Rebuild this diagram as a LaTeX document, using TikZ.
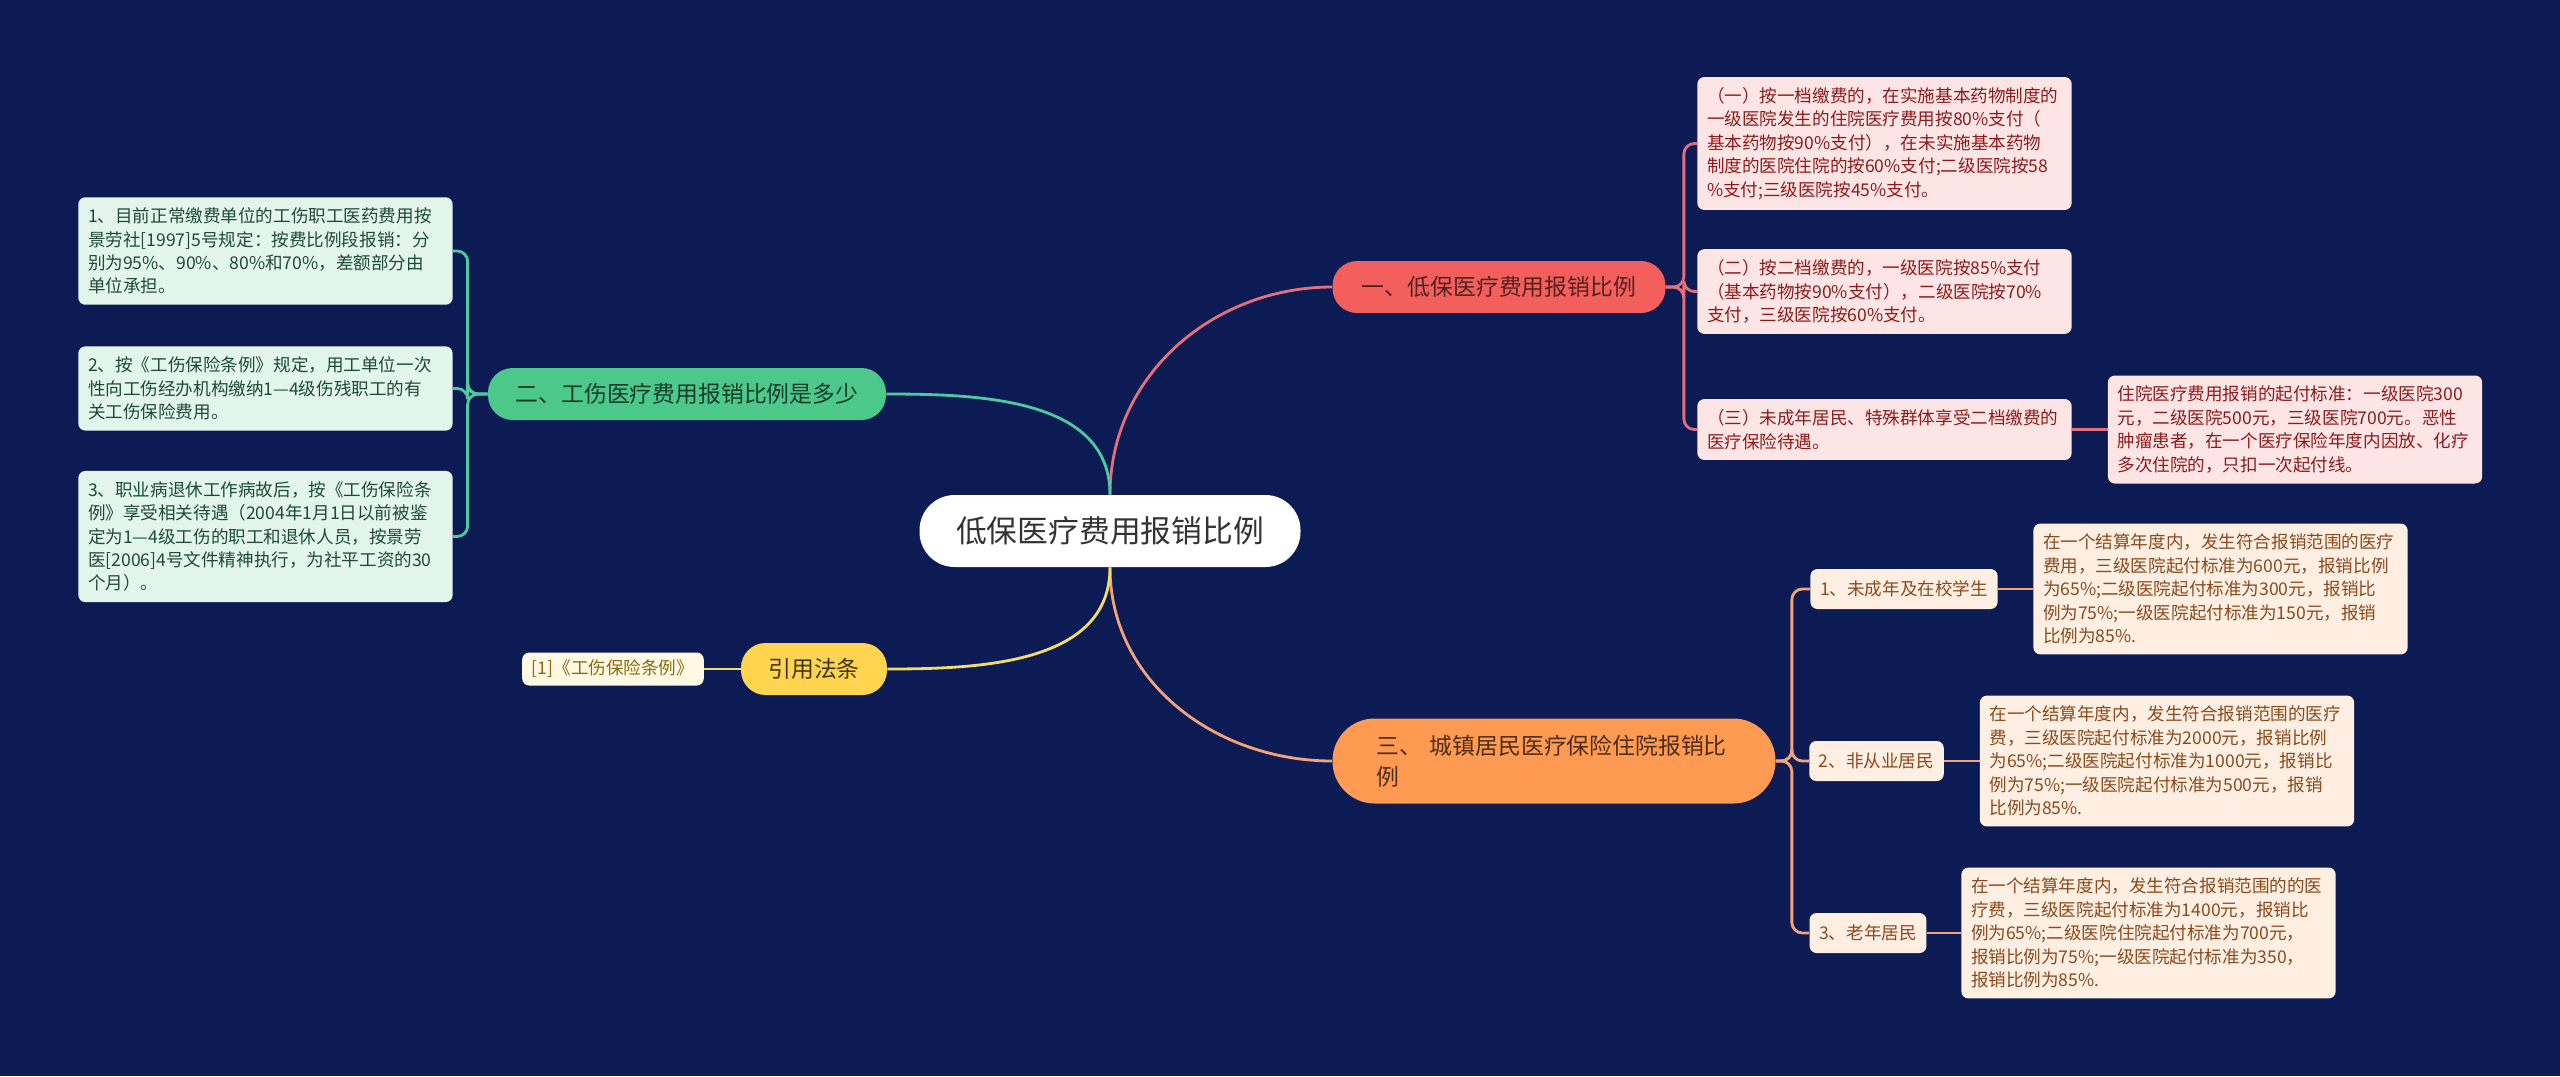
\documentclass[tikz,border=0pt]{standalone}
\usepackage{fontspec}
\setmainfont{Noto Sans CJK SC}
\usetikzlibrary{positioning}
\definecolor{navy}{HTML}{0C1B54}
\definecolor{inkgray}{HTML}{333333}
\definecolor{coral}{HTML}{F25F5C}
\definecolor{mint}{HTML}{4CC98A}
\definecolor{apricot}{HTML}{FF9A52}
\definecolor{amber}{HTML}{FFD54F}
\definecolor{coralline}{HTML}{E46F7A}
\definecolor{mintline}{HTML}{4FC9A0}
\definecolor{apricotline}{HTML}{F3A27A}
\definecolor{amberline}{HTML}{F2DC6B}
\definecolor{maroon}{HTML}{8E1B1B}
\definecolor{pine}{HTML}{1F4A38}
\definecolor{rust}{HTML}{8A4A1C}
\definecolor{olive}{HTML}{8A6A10}

\begin{document}
\begin{tikzpicture}[
  root/.style={fill=white, text=inkgray, rounded corners=20pt,
    minimum width=7.62cm, minimum height=1.44cm,
    font=\fontsize{17.5}{21}\selectfont, inner sep=0pt},
  branch/.style={fill=#1, rounded corners=14pt, minimum height=1.04cm,
    font=\fontsize{13}{17.6}\selectfont, inner xsep=10pt, inner ysep=0pt},
  leaf/.style={fill=#1!16, rounded corners=4pt, text width=7.1cm, align=left,
    inner xsep=5.5pt, inner ysep=6pt, font=\fontsize{10}{13.3}\selectfont},
  tag/.style={fill=#1!16, rounded corners=4pt, minimum height=0.8cm,
    inner xsep=5.5pt, inner ysep=0pt, font=\fontsize{10}{13.3}\selectfont},
  link/.style={draw=#1, line width=1.6pt},
  twig/.style={draw=#1, line width=1.6pt, rounded corners=6pt},
]

% Background
\useasboundingbox (0,0) rectangle (51.2,-21.52);
\fill[navy] (0,0) rectangle (51.2,-21.52);

% =============================================
% Centre and main branches
% =============================================
\node[root] (root) at (22.2,-10.62) {低保医疗费用报销比例};

\node[branch=coral, text=coral!35!black, minimum width=6.66cm] (b1) at (29.98,-5.74)
  {一、低保医疗费用报销比例};
\node[branch=mint, text=mint!30!black, minimum width=7.96cm] (b2) at (13.74,-7.88)
  {二、工伤医疗费用报销比例是多少};
\node[branch=apricot, text=apricot!30!black, rounded corners=24pt, minimum width=8.86cm,
  minimum height=1.7cm, text width=7.1cm, align=left] (b3) at (31.08,-15.22)
  {三、 城镇居民医疗保险住院报销比\\例};
\node[branch=amber, text=amber!25!black, minimum width=2.92cm] (b4) at (16.28,-13.38)
  {引用法条};

\draw[link=coralline] (root.north) to[out=90, in=180] (b1.west);
\draw[link=mintline] (root.north) to[out=90, in=0] (b2.east);
\draw[link=apricotline] (root.south) to[out=-90, in=180] (b3.west);
\draw[link=amberline] (root.south) to[out=-90, in=0] (b4.east);

% =============================================
% 一: right, red leaves
% =============================================
\node[leaf=coral, text=maroon] (r1) at (37.69,-2.87)
  {（一）按一档缴费的，在实施基本药物制度的\\
   一级医院发生的住院医疗费用按80\%支付（\\
   基本药物按90\%支付），在未实施基本药物\\
   制度的医院住院的按60\%支付;二级医院按58\\
   \%支付;三级医院按45\%支付。};
\node[leaf=coral, text=maroon] (r2) at (37.69,-5.83)
  {（二）按二档缴费的，一级医院按85\%支付\\
   （基本药物按90\%支付），二级医院按70\%\\
   支付，三级医院按60\%支付。};
\node[leaf=coral, text=maroon] (r3) at (37.69,-8.59)
  {（三）未成年居民、特殊群体享受二档缴费的\\
   医疗保险待遇。};
\node[leaf=coral, text=maroon] (r3a) at (45.9,-8.59)
  {住院医疗费用报销的起付标准：一级医院300\\
   元，二级医院500元，三级医院700元。恶性\\
   肿瘤患者，在一个医疗保险年度内因放、化疗\\
   多次住院的，只扣一次起付线。};

\draw[twig=coralline] (b1.east) -- ++(0.36,0) |- (r1.west);
\draw[twig=coralline] (b1.east) -- ++(0.36,0) |- (r2.west);
\draw[twig=coralline] (b1.east) -- ++(0.36,0) |- (r3.west);
\draw[twig=coralline] (r3.east) -- (r3a.west);

% =============================================
% 二: left, green leaves
% =============================================
\node[leaf=mint, text=pine] (g1) at (5.31,-5.02)
  {1、目前正常缴费单位的工伤职工医药费用按\\
   景劳社[1997]5号规定：按费比例段报销：分\\
   别为95\%、90\%、80\%和70\%，差额部分由\\
   单位承担。};
\node[leaf=mint, text=pine] (g2) at (5.31,-7.77)
  {2、按《工伤保险条例》规定，用工单位一次\\
   性向工伤经办机构缴纳1—4级伤残职工的有\\
   关工伤保险费用。};
\node[leaf=mint, text=pine] (g3) at (5.31,-10.73)
  {3、职业病退休工作病故后，按《工伤保险条\\
   例》享受相关待遇（2004年1月1日以前被鉴\\
   定为1—4级工伤的职工和退休人员，按景劳\\
   医[2006]4号文件精神执行，为社平工资的30\\
   个月）。};

\draw[twig=mintline] (b2.west) -- ++(-0.4,0) |- (g1.east);
\draw[twig=mintline] (b2.west) -- ++(-0.4,0) |- (g2.east);
\draw[twig=mintline] (b2.west) -- ++(-0.4,0) |- (g3.east);

% =============================================
% 引用法条
% =============================================
\node[tag=amber, text=olive, minimum height=0.66cm] (y1) at (12.26,-13.38)
  {[1]《工伤保险条例》};
\draw[twig=amberline] (b4.west) -- (y1.east);

% =============================================
% 三: right, orange groups
% =============================================
\node[tag=apricot, text=rust] (o1) at (38.08,-11.78) {1、未成年及在校学生};
\node[tag=apricot, text=rust] (o2) at (37.53,-15.22) {2、非从业居民};
\node[tag=apricot, text=rust] (o3) at (37.36,-18.66) {3、老年居民};

\node[leaf=apricot, text=rust] (o1a) at (44.41,-11.78)
  {在一个结算年度内，发生符合报销范围的医疗\\
   费用，三级医院起付标准为600元，报销比例\\
   为65\%;二级医院起付标准为300元，报销比\\
   例为75\%;一级医院起付标准为150元，报销\\
   比例为85\%.};
\node[leaf=apricot, text=rust] (o2a) at (43.34,-15.22)
  {在一个结算年度内，发生符合报销范围的医疗\\
   费，三级医院起付标准为2000元，报销比例\\
   为65\%;二级医院起付标准为1000元，报销比\\
   例为75\%;一级医院起付标准为500元，报销\\
   比例为85\%.};
\node[leaf=apricot, text=rust] (o3a) at (42.97,-18.66)
  {在一个结算年度内，发生符合报销范围的的医\\
   疗费，三级医院起付标准为1400元，报销比\\
   例为65\%;二级医院住院起付标准为700元，\\
   报销比例为75\%;一级医院起付标准为350，\\
   报销比例为85\%.};

\draw[twig=apricotline] (b3.east) -- ++(0.32,0) |- (o1.west);
\draw[twig=apricotline] (b3.east) -- ++(0.32,0) |- (o2.west);
\draw[twig=apricotline] (b3.east) -- ++(0.32,0) |- (o3.west);
\draw[twig=apricotline] (o1.east) -- (o1a.west);
\draw[twig=apricotline] (o2.east) -- (o2a.west);
\draw[twig=apricotline] (o3.east) -- (o3a.west);

\end{tikzpicture}
\end{document}
